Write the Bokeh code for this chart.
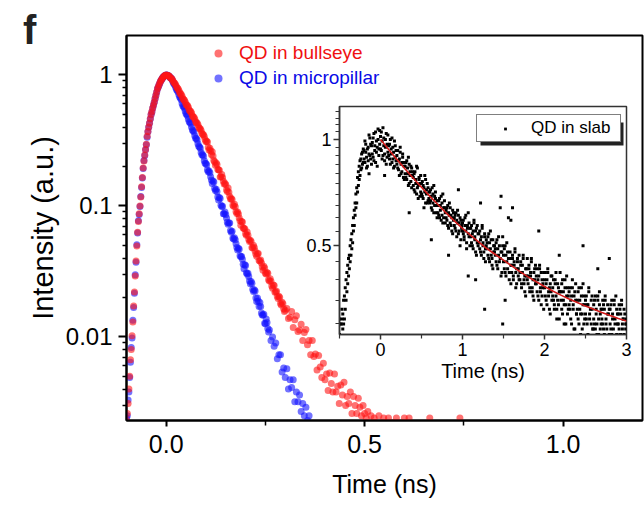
from bokeh.plotting import figure
from bokeh.models import (FixedTicker, CustomJSTickFormatter, Legend, LegendItem,
                          BoxAnnotation, GridBox, Div)
from bokeh.embed import file_html
from bokeh.resources import INLINE

FONT = "Liberation Sans"

# ---------------- main panel data (time in ns, normalised intensity) ----------------
T_RISE = [-0.100, -0.098, -0.096, -0.094, -0.092, -0.090, -0.088, -0.086, -0.084, -0.082,
          -0.080, -0.078, -0.076, -0.074, -0.072, -0.070, -0.068, -0.066, -0.064, -0.062,
          -0.060, -0.058, -0.056, -0.054, -0.052, -0.050, -0.048, -0.046, -0.044, -0.042,
          -0.040, -0.038, -0.036, -0.034, -0.032, -0.030, -0.028, -0.026, -0.024, -0.022,
          -0.020, -0.018, -0.016, -0.014, -0.012, -0.010, -0.008, -0.006, -0.004, -0.002,
          0.000]

I_RISE_BULLSEYE = [0.0023, 0.0026, 0.0031, 0.0040, 0.0050, 0.0067, 0.0080, 0.0102, 0.0130, 0.0172,
                   0.0220, 0.0292, 0.0380, 0.0495, 0.0630, 0.0760, 0.0870, 0.100, 0.117, 0.140,
                   0.165, 0.195, 0.220, 0.245, 0.270, 0.296, 0.340, 0.370, 0.400, 0.430,
                   0.465, 0.500, 0.525, 0.560, 0.590, 0.620, 0.660, 0.700, 0.740, 0.785,
                   0.810, 0.840, 0.870, 0.900, 0.920, 0.940, 0.960, 0.973, 0.985, 0.993,
                   1.000]

I_RISE_PILLAR = [0.0024, 0.0025, 0.0033, 0.0038, 0.0049, 0.0064, 0.0083, 0.0098, 0.0134, 0.0168,
                 0.0215, 0.0298, 0.0372, 0.0505, 0.0620, 0.0770, 0.0860, 0.099, 0.118, 0.138,
                 0.163, 0.193, 0.222, 0.243, 0.268, 0.293, 0.335, 0.368, 0.398, 0.428,
                 0.460, 0.497, 0.522, 0.556, 0.588, 0.618, 0.657, 0.697, 0.737, 0.780,
                 0.808, 0.838, 0.868, 0.897, 0.918, 0.938, 0.958, 0.972, 0.984, 0.992,
                 1.000]

T_FALL_PILLAR = [0.004, 0.008, 0.012, 0.016, 0.020, 0.024, 0.028, 0.032, 0.036, 0.040,
                 0.044, 0.048, 0.052, 0.056, 0.060, 0.064, 0.068, 0.072, 0.076, 0.080,
                 0.084, 0.088, 0.092, 0.096, 0.100, 0.104, 0.108, 0.112, 0.116, 0.120,
                 0.124, 0.128, 0.132, 0.136, 0.140, 0.144, 0.148, 0.152, 0.156, 0.160,
                 0.164, 0.168, 0.172, 0.176, 0.180, 0.184, 0.188, 0.192, 0.196, 0.200,
                 0.204, 0.208, 0.212, 0.216, 0.220, 0.224, 0.228, 0.232, 0.236, 0.240,
                 0.244, 0.248, 0.252, 0.256, 0.260, 0.264, 0.268, 0.272, 0.276, 0.280,
                 0.284, 0.288, 0.292, 0.296, 0.300, 0.304, 0.308, 0.312, 0.316, 0.320,
                 0.324, 0.328, 0.332, 0.336, 0.340, 0.344, 0.348, 0.352, 0.356, 0.360]

I_FALL_PILLAR = [0.991, 0.972, 0.946, 0.903, 0.853, 0.801, 0.762, 0.705, 0.664, 0.606,
                 0.572, 0.527, 0.498, 0.458, 0.434, 0.399, 0.375, 0.343, 0.327, 0.298,
                 0.282, 0.256, 0.246, 0.221, 0.211, 0.188, 0.185, 0.167, 0.148, 0.152,
                 0.131, 0.128, 0.111, 0.114, 0.099, 0.0873, 0.0898, 0.0810, 0.0723, 0.0740,
                 0.0630, 0.0567, 0.0572, 0.0515, 0.0460, 0.0467, 0.0409, 0.0392, 0.0331, 0.0351,
                 0.0302, 0.0289, 0.0254, 0.0257, 0.0222, 0.0224, 0.0186, 0.0188, 0.0183, 0.0152,
                 0.0147, 0.0127, 0.0137, 0.0116, 0.0113, 0.0094, 0.0100, 0.0085, 0.0090, 0.0068,
                 0.0073, 0.0073, 0.0054, 0.0058, 0.0049, 0.0057, 0.0040, 0.0047, 0.0041, 0.0047,
                 0.0032, 0.0038, 0.0032, 0.0036, 0.0027, 0.0031, 0.0025, 0.0029, 0.0023, 0.0025]

# intermediate time bins of the micropillar decay (dense part of the band)
T_MID_PILLAR = [0.002, 0.006, 0.010, 0.014, 0.018, 0.022, 0.026, 0.030, 0.034, 0.038,
                0.042, 0.046, 0.050, 0.054, 0.058, 0.062, 0.066, 0.070, 0.074, 0.078,
                0.082, 0.086, 0.090, 0.094, 0.098, 0.102, 0.106, 0.110, 0.114, 0.118,
                0.122, 0.126, 0.130, 0.134, 0.138, 0.142, 0.146, 0.150, 0.154, 0.158,
                0.162, 0.166, 0.170, 0.174, 0.178, 0.182, 0.186, 0.190, 0.194, 0.198,
                0.202, 0.206, 0.210, 0.214, 0.218, 0.222, 0.226, 0.230, 0.234, 0.238,
                0.242, 0.246, 0.250, 0.254, 0.258]
I_MID_PILLAR = [0.997, 0.985, 0.955, 0.930, 0.872, 0.835, 0.774, 0.741, 0.679, 0.646,
                0.581, 0.556, 0.506, 0.486, 0.440, 0.424, 0.380, 0.366, 0.329, 0.318,
                0.285, 0.275, 0.246, 0.239, 0.212, 0.206, 0.182, 0.179, 0.158, 0.155,
                0.136, 0.134, 0.117, 0.116, 0.101, 0.0995, 0.0870, 0.0858, 0.0752, 0.0741,
                0.0648, 0.0640, 0.0558, 0.0552, 0.0482, 0.0476, 0.0416, 0.0411, 0.0359, 0.0355,
                0.0309, 0.0306, 0.0267, 0.0265, 0.0230, 0.0229, 0.0198, 0.0198, 0.0171, 0.0171,
                0.0147, 0.0149, 0.0126, 0.0129, 0.0109]

T_FALL_BULLSEYE = [0.004, 0.008, 0.012, 0.016, 0.020, 0.024, 0.028, 0.032, 0.036, 0.040,
                   0.044, 0.048, 0.052, 0.056, 0.060, 0.064, 0.068, 0.072, 0.076, 0.080,
                   0.084, 0.088, 0.092, 0.096, 0.100, 0.104, 0.108, 0.112, 0.116, 0.120,
                   0.124, 0.128, 0.132, 0.136, 0.140, 0.144, 0.148, 0.152, 0.156, 0.160,
                   0.164, 0.168, 0.172, 0.176, 0.180, 0.184, 0.188, 0.192, 0.196, 0.200,
                   0.204, 0.208, 0.212, 0.216, 0.220, 0.224, 0.228, 0.232, 0.236, 0.240,
                   0.244, 0.248, 0.252, 0.256, 0.260, 0.264, 0.268, 0.272, 0.276, 0.280,
                   0.284, 0.288, 0.292, 0.296, 0.300, 0.304, 0.308, 0.312, 0.316, 0.320,
                   0.324, 0.328, 0.332, 0.336, 0.340, 0.344, 0.348, 0.352, 0.356, 0.360,
                   0.364, 0.368, 0.372, 0.376, 0.380, 0.384, 0.388, 0.392, 0.396, 0.400,
                   0.404, 0.408, 0.412, 0.416, 0.420, 0.424, 0.428, 0.432, 0.436, 0.440,
                   0.444, 0.448, 0.452, 0.456, 0.460, 0.464, 0.468, 0.472, 0.476, 0.480,
                   0.484, 0.488, 0.492, 0.496, 0.500, 0.504, 0.508, 0.512, 0.516, 0.520,
                   0.524, 0.528, 0.532, 0.536, 0.540, 0.544, 0.548, 0.552, 0.556, 0.560,
                   0.564, 0.568, 0.572, 0.576, 0.580, 0.584, 0.588, 0.592, 0.596, 0.600,
                   0.604, 0.608, 0.612, 0.616, 0.620, 0.624, 0.628, 0.632, 0.636, 0.640,
                   0.664, 0.740]

I_FALL_BULLSEYE = [0.990, 0.975, 0.944, 0.915, 0.872, 0.839, 0.795, 0.762, 0.718, 0.688,
                   0.648, 0.622, 0.586, 0.563, 0.529, 0.509, 0.478, 0.460, 0.431, 0.416,
                   0.390, 0.376, 0.351, 0.339, 0.310, 0.308, 0.267, 0.264, 0.259, 0.222,
                   0.204, 0.207, 0.189, 0.166, 0.174, 0.154, 0.149, 0.132, 0.137, 0.118,
                   0.114, 0.101, 0.103, 0.0901, 0.0897, 0.0809, 0.0712, 0.0754, 0.0673, 0.0612,
                   0.0633, 0.0554, 0.0546, 0.0481, 0.0498, 0.0453, 0.0412, 0.0434, 0.0380, 0.0367,
                   0.0323, 0.0335, 0.0302, 0.0306, 0.0267, 0.0266, 0.0235, 0.0247, 0.0221, 0.0203,
                   0.0204, 0.0180, 0.0184, 0.0164, 0.0160, 0.0165, 0.0138, 0.0141, 0.0156, 0.0118,
                   0.0135, 0.0145, 0.0110, 0.0113, 0.0125, 0.0094, 0.0108, 0.0114, 0.0087, 0.0094,
                   0.0073, 0.0094, 0.0071, 0.0074, 0.0056, 0.0072, 0.0059, 0.0049, 0.0063, 0.0047,
                   0.0052, 0.0039, 0.0053, 0.0044, 0.0038, 0.0052, 0.0038, 0.0042, 0.0031, 0.0043,
                   0.0036, 0.0045, 0.0030, 0.0035, 0.0031, 0.0038, 0.0026, 0.0035, 0.0030, 0.0026,
                   0.0034, 0.0029, 0.0025, 0.0030, 0.0026, 0.0024, 0.0027, 0.0021, 0.0025, 0.0019,
                   0.0024, 0.0022, 0.0018, 0.0025, 0.0020, 0.0017, 0.0024, 0.0021, 0.0019, 0.0024,
                   0.0016, 0.0020, 0.0022, 0.0017, 0.0024, 0.0019, 0.0015, 0.0021, 0.0018, 0.0024,
                   0.0016, 0.0020, 0.0024, 0.0017, 0.0015, 0.0019, 0.0021, 0.0016, 0.0018, 0.0014,
                   0.0024, 0.0024]

# intermediate time bins of the bullseye decay (dense part of the band)
T_MID_BULLSEYE = [0.002, 0.006, 0.010, 0.014, 0.018, 0.022, 0.026, 0.030, 0.034, 0.038,
                  0.042, 0.046, 0.050, 0.054, 0.058, 0.062, 0.066, 0.070, 0.074, 0.078,
                  0.082, 0.086, 0.090, 0.094, 0.098, 0.102, 0.106, 0.110, 0.114, 0.118,
                  0.122, 0.126, 0.130, 0.134, 0.138, 0.142, 0.146, 0.150, 0.154, 0.158,
                  0.162, 0.166, 0.170, 0.174, 0.178, 0.182, 0.186, 0.190, 0.194, 0.198,
                  0.202, 0.206, 0.210, 0.214, 0.218, 0.222, 0.226, 0.230, 0.234, 0.238,
                  0.242, 0.246, 0.250, 0.254, 0.258, 0.262, 0.266, 0.270, 0.274, 0.278,
                  0.282, 0.286, 0.290, 0.294, 0.298]
I_MID_BULLSEYE = [0.996, 0.986, 0.955, 0.934, 0.887, 0.861, 0.811, 0.785, 0.734, 0.709,
                  0.661, 0.642, 0.598, 0.581, 0.540, 0.525, 0.488, 0.475, 0.441, 0.429,
                  0.398, 0.388, 0.359, 0.350, 0.321, 0.312, 0.281, 0.275, 0.247, 0.241,
                  0.217, 0.213, 0.190, 0.187, 0.167, 0.165, 0.147, 0.145, 0.129, 0.127,
                  0.113, 0.112, 0.0995, 0.0985, 0.0875, 0.0868, 0.0770, 0.0762, 0.0677, 0.0670,
                  0.0597, 0.0598, 0.0534, 0.0536, 0.0478, 0.0481, 0.0428, 0.0431, 0.0383, 0.0386,
                  0.0342, 0.0346, 0.0306, 0.0310, 0.0273, 0.0278, 0.0245, 0.0249, 0.0219, 0.0223,
                  0.0196, 0.0200, 0.0175, 0.0179, 0.0156]

# ---------------- inset data: QD in slab ----------------
T_SLAB = [-0.50, -0.49, -0.48, -0.47, -0.46, -0.45, -0.44, -0.43, -0.42, -0.41,
          -0.40, -0.39, -0.38, -0.37, -0.36, -0.35, -0.34, -0.33, -0.32, -0.31,
          -0.30, -0.29, -0.28, -0.27, -0.26, -0.25, -0.24, -0.23, -0.22, -0.21,
          -0.20, -0.19, -0.18, -0.17, -0.16, -0.15, -0.14, -0.13, -0.12, -0.11,
          -0.10, -0.09, -0.08, -0.07, -0.06, -0.05, -0.04, -0.03, -0.02, -0.01,
          0.00, 0.01, 0.02, 0.03, 0.04, 0.05, 0.06, 0.07, 0.08, 0.09,
          0.10, 0.11, 0.12, 0.13, 0.14, 0.15, 0.16, 0.17, 0.18, 0.19,
          0.20, 0.21, 0.22, 0.23, 0.24, 0.25, 0.26, 0.27, 0.28, 0.29,
          0.30, 0.31, 0.32, 0.33, 0.34, 0.35, 0.36, 0.37, 0.38, 0.39,
          0.40, 0.41, 0.42, 0.43, 0.44, 0.45, 0.46, 0.47, 0.48, 0.49,
          0.50, 0.51, 0.52, 0.53, 0.54, 0.55, 0.56, 0.57, 0.58, 0.59,
          0.60, 0.61, 0.62, 0.63, 0.64, 0.65, 0.66, 0.67, 0.68, 0.69,
          0.70, 0.71, 0.72, 0.73, 0.74, 0.75, 0.76, 0.77, 0.78, 0.79,
          0.80, 0.81, 0.82, 0.83, 0.84, 0.85, 0.86, 0.87, 0.88, 0.89,
          0.90, 0.91, 0.92, 0.93, 0.94, 0.95, 0.96, 0.97, 0.98, 0.99,
          1.00, 1.01, 1.02, 1.03, 1.04, 1.05, 1.06, 1.07, 1.08, 1.09,
          1.10, 1.11, 1.12, 1.13, 1.14, 1.15, 1.16, 1.17, 1.18, 1.19,
          1.20, 1.21, 1.22, 1.23, 1.24, 1.25, 1.26, 1.27, 1.28, 1.29,
          1.30, 1.31, 1.32, 1.33, 1.34, 1.35, 1.36, 1.37, 1.38, 1.39,
          1.40, 1.41, 1.42, 1.43, 1.44, 1.45, 1.46, 1.47, 1.48, 1.49,
          1.50, 1.51, 1.52, 1.53, 1.54, 1.55, 1.56, 1.57, 1.58, 1.59,
          1.60, 1.61, 1.62, 1.63, 1.64, 1.65, 1.66, 1.67, 1.68, 1.69,
          1.70, 1.71, 1.72, 1.73, 1.74, 1.75, 1.76, 1.77, 1.78, 1.79,
          1.80, 1.81, 1.82, 1.83, 1.84, 1.85, 1.86, 1.87, 1.88, 1.89,
          1.90, 1.91, 1.92, 1.93, 1.94, 1.95, 1.96, 1.97, 1.98, 1.99,
          2.00, 2.01, 2.02, 2.03, 2.04, 2.05, 2.06, 2.07, 2.08, 2.09,
          2.10, 2.11, 2.12, 2.13, 2.14, 2.15, 2.16, 2.17, 2.18, 2.19,
          2.20, 2.21, 2.22, 2.23, 2.24, 2.25, 2.26, 2.27, 2.28, 2.29,
          2.30, 2.31, 2.32, 2.33, 2.34, 2.35, 2.36, 2.37, 2.38, 2.39,
          2.40, 2.41, 2.42, 2.43, 2.44, 2.45, 2.46, 2.47, 2.48, 2.49,
          2.50, 2.51, 2.52, 2.53, 2.54, 2.55, 2.56, 2.57, 2.58, 2.59,
          2.60, 2.61, 2.62, 2.63, 2.64, 2.65, 2.66, 2.67, 2.68, 2.69,
          2.70, 2.71, 2.72, 2.73, 2.74, 2.75, 2.76, 2.77, 2.78, 2.79,
          2.80, 2.81, 2.82, 2.83, 2.84, 2.85, 2.86, 2.87, 2.88, 2.89,
          2.90, 2.91, 2.92, 2.93, 2.94, 2.95, 2.96, 2.97, 2.98, 2.99,
          3.00]

I_SLAB_A = [0.31, 0.27, 0.30, 0.33, 0.29, 0.30, 0.36, 0.33, 0.40, 0.37,
            0.44, 0.41, 0.47, 0.45, 0.52, 0.49, 0.51, 0.60, 0.57, 0.66,
            0.70, 0.66, 0.78, 0.74, 0.84, 0.79, 0.88, 0.83, 0.92, 0.86,
            0.93, 0.86, 0.97, 0.89, 0.84, 0.95, 0.91, 1.01, 0.88, 0.96,
            0.98, 0.89, 1.04, 0.93, 0.86, 0.99, 0.95, 1.07, 0.90, 0.97,
            1.02, 0.93, 0.88, 1.08, 0.96, 0.91, 1.00, 0.85, 0.97, 1.03,
            0.96, 0.88, 1.00, 0.91, 0.86, 0.95, 0.83, 0.99, 0.89, 0.93,
            0.85, 0.93, 0.82, 0.88, 0.95, 0.80, 0.86, 0.91, 0.78, 0.84,
            0.80, 0.86, 0.77, 0.83, 0.89, 0.75, 0.81, 0.84, 0.73, 0.79,
            0.78, 0.72, 0.81, 0.75, 0.70, 0.83, 0.74, 0.77, 0.69, 0.79,
            0.70, 0.76, 0.68, 0.73, 0.79, 0.66, 0.72, 0.75, 0.67, 0.71,
            0.66, 0.72, 0.69, 0.63, 0.70, 0.74, 0.65, 0.68, 0.62, 0.67,
            0.65, 0.61, 0.68, 0.63, 0.59, 0.66, 0.70, 0.60, 0.64, 0.58,
            0.60, 0.64, 0.57, 0.62, 0.66, 0.58, 0.61, 0.55, 0.63, 0.59,
            0.57, 0.61, 0.55, 0.59, 0.63, 0.54, 0.58, 0.60, 0.52, 0.57,
            0.55, 0.59, 0.53, 0.57, 0.61, 0.51, 0.56, 0.54, 0.58, 0.50,
            0.53, 0.57, 0.50, 0.55, 0.59, 0.52, 0.48, 0.56, 0.51, 0.54,
            0.51, 0.55, 0.48, 0.53, 0.57, 0.50, 0.46, 0.54, 0.49, 0.52,
            0.49, 0.53, 0.46, 0.51, 0.55, 0.47, 0.44, 0.52, 0.48, 0.50,
            0.47, 0.51, 0.44, 0.49, 0.53, 0.45, 0.64, 0.48, 0.42, 0.50,
            0.45, 0.49, 0.42, 0.47, 0.51, 0.43, 0.46, 0.40, 0.48, 0.44,
            0.44, 0.47, 0.41, 0.45, 0.49, 0.42, 0.39, 0.46, 0.43, 0.40,
            0.42, 0.45, 0.39, 0.44, 0.47, 0.40, 0.37, 0.43, 0.41, 0.46,
            0.41, 0.44, 0.38, 0.42, 0.46, 0.37, 0.40, 0.35, 0.43, 0.39,
            0.39, 0.43, 0.36, 0.41, 0.44, 0.37, 0.34, 0.40, 0.38, 0.42,
            0.38, 0.42, 0.35, 0.40, 0.43, 0.36, 0.33, 0.39, 0.37, 0.41,
            0.36, 0.40, 0.34, 0.39, 0.42, 0.33, 0.35, 0.38, 0.31, 0.37,
            0.37, 0.33, 0.40, 0.35, 0.30, 0.38, 0.34, 0.41, 0.32, 0.36,
            0.34, 0.38, 0.31, 0.36, 0.40, 0.33, 0.29, 0.37, 0.35, 0.32,
            0.35, 0.31, 0.38, 0.33, 0.28, 0.36, 0.32, 0.39, 0.30, 0.34,
            0.32, 0.36, 0.30, 0.34, 0.38, 0.31, 0.27, 0.35, 0.33, 0.29,
            0.34, 0.30, 0.36, 0.32, 0.28, 0.35, 0.31, 0.37, 0.29, 0.33,
            0.31, 0.35, 0.29, 0.33, 0.36, 0.30, 0.27, 0.34, 0.32, 0.28,
            0.33, 0.29, 0.35, 0.31, 0.27, 0.34, 0.30, 0.36, 0.28, 0.32,
            0.30, 0.34, 0.28, 0.32, 0.35, 0.29, 0.31, 0.33, 0.27, 0.30,
            0.31]

I_SLAB_B = [0.28, 0.30, 0.26, 0.31, 0.32, 0.35, 0.31, 0.38, 0.35, 0.42,
            0.39, 0.46, 0.43, 0.50, 0.47, 0.54, 0.57, 0.55, 0.63, 0.61,
            0.64, 0.73, 0.71, 0.81, 0.77, 0.87, 0.82, 0.91, 0.85, 0.94,
            0.88, 0.99, 0.92, 0.83, 0.94, 0.87, 1.03, 0.90, 0.97, 0.85,
            0.91, 1.01, 0.87, 0.96, 1.05, 0.92, 0.84, 1.00, 0.94, 1.06,
            0.94, 1.05, 0.99, 0.90, 1.01, 0.87, 0.95, 1.04, 0.89, 0.92,
            0.90, 0.97, 0.85, 0.94, 1.01, 0.88, 0.92, 0.84, 0.96, 0.87,
            0.90, 0.83, 0.87, 0.79, 0.92, 0.85, 0.81, 0.89, 0.86, 0.77,
            0.84, 0.78, 0.87, 0.80, 0.74, 0.85, 0.79, 0.76, 0.83, 0.81,
            0.74, 0.80, 0.71, 0.77, 0.84, 0.73, 0.68, 0.78, 0.75, 0.71,
            0.75, 0.69, 0.74, 0.64, 0.71, 0.77, 0.70, 0.66, 0.73, 0.68,
            0.71, 0.67, 0.64, 0.73, 0.66, 0.62, 0.69, 0.71, 0.65, 0.60,
            0.62, 0.67, 0.60, 0.65, 0.69, 0.61, 0.58, 0.64, 0.67, 0.62,
            0.63, 0.59, 0.65, 0.56, 0.61, 0.64, 0.57, 0.60, 0.54, 0.62,
            0.60, 0.56, 0.62, 0.53, 0.58, 0.61, 0.55, 0.50, 0.59, 0.56,
            0.58, 0.54, 0.52, 0.60, 0.55, 0.49, 0.57, 0.62, 0.53, 0.56,
            0.56, 0.51, 0.54, 0.49, 0.58, 0.53, 0.55, 0.47, 0.57, 0.50,
            0.54, 0.49, 0.52, 0.47, 0.56, 0.51, 0.48, 0.53, 0.45, 0.50,
            0.51, 0.47, 0.54, 0.45, 0.49, 0.52, 0.46, 0.43, 0.50, 0.48,
            0.49, 0.45, 0.52, 0.43, 0.47, 0.50, 0.46, 0.41, 0.48, 0.53,
            0.47, 0.43, 0.50, 0.41, 0.45, 0.48, 0.60, 0.42, 0.46, 0.39,
            0.42, 0.46, 0.40, 0.44, 0.48, 0.38, 0.43, 0.45, 0.41, 0.47,
            0.40, 0.44, 0.38, 0.42, 0.46, 0.39, 0.41, 0.36, 0.43, 0.40,
            0.39, 0.43, 0.37, 0.41, 0.45, 0.38, 0.36, 0.42, 0.40, 0.44,
            0.41, 0.37, 0.40, 0.35, 0.43, 0.38, 0.42, 0.36, 0.39, 0.33,
            0.40, 0.36, 0.39, 0.34, 0.42, 0.37, 0.38, 0.32, 0.41, 0.35,
            0.38, 0.35, 0.33, 0.40, 0.36, 0.31, 0.39, 0.34, 0.37, 0.42,
            0.35, 0.39, 0.32, 0.37, 0.34, 0.40, 0.30, 0.36, 0.38, 0.33,
            0.37, 0.33, 0.35, 0.30, 0.38, 0.34, 0.36, 0.29, 0.39, 0.32,
            0.33, 0.37, 0.30, 0.35, 0.32, 0.38, 0.29, 0.34, 0.36, 0.31,
            0.35, 0.31, 0.34, 0.28, 0.37, 0.32, 0.33, 0.30, 0.36, 0.29,
            0.31, 0.35, 0.29, 0.33, 0.30, 0.36, 0.28, 0.34, 0.32, 0.30,
            0.33, 0.30, 0.34, 0.28, 0.35, 0.31, 0.29, 0.32, 0.27, 0.33,
            0.30, 0.34, 0.28, 0.32, 0.29, 0.35, 0.31, 0.27, 0.33, 0.30,
            0.32, 0.29, 0.33, 0.28, 0.34, 0.30, 0.31, 0.28, 0.32, 0.29,
            0.30]

T_SLAB_OUT = [1.47, 1.61, 1.59, 1.93, 2.47, 2.79, 1.27, 1.49, 1.07, 1.52,
              0.35, 0.62, 0.83, 1.16, 2.18, 2.65, 0.05, -0.14, 0.95, 1.22]
I_SLAB_OUT = [0.69, 0.64, 0.59, 0.55, 0.50, 0.46, 0.33, 0.30, 0.41, 0.35,
              0.62, 0.52, 0.47, 0.40, 0.47, 0.43, 0.79, 0.80, 0.72, 0.66]

FIT_T = [0.0, 0.1, 0.2, 0.3, 0.4, 0.5, 0.6, 0.7, 0.8, 0.9, 1.0,
         1.1, 1.2, 1.3, 1.4, 1.5, 1.6, 1.7, 1.8, 1.9, 2.0,
         2.1, 2.2, 2.3, 2.4, 2.5, 2.6, 2.7, 2.8, 2.9, 3.0]
FIT_I = [1.000, 0.936, 0.878, 0.825, 0.776, 0.732, 0.691, 0.654, 0.619, 0.588, 0.560,
         0.535, 0.512, 0.490, 0.472, 0.455, 0.438, 0.422, 0.408, 0.395, 0.383,
         0.372, 0.362, 0.353, 0.345, 0.337, 0.330, 0.323, 0.317, 0.311, 0.306]

MAIN_X_TICKS = [0.0, 0.5, 1.0]
MAIN_Y_TICKS = [0.01, 0.1, 1.0]
INSET_X_TICKS = [0, 1, 2, 3]
INSET_Y_TICKS = [0.5, 1.0]

LABEL_BULLSEYE = "QD in bullseye"
LABEL_PILLAR = "QD in micropillar"
LABEL_SLAB = "QD in slab"
PANEL_LETTER = "f"

# ---------------- main figure ----------------
p = figure(frame_width=516, frame_height=385, x_range=(-0.1, 1.2), y_range=(0.0023, 2.0),
           y_axis_type="log", output_backend="svg", toolbar_location=None,
           title_location=None,
           min_border_left=126, min_border_right=2, min_border_top=35, min_border_bottom=85)
p.grid.visible = False
p.outline_line_color = "black"
p.outline_line_width = 2
p.outline_line_alpha = 1
p.background_fill_color = "white"
p.border_fill_color = "white"

t_pil = T_RISE + T_FALL_PILLAR + T_MID_PILLAR
i_pil = I_RISE_PILLAR + I_FALL_PILLAR + I_MID_PILLAR
t_bul = T_RISE + T_FALL_BULLSEYE + T_MID_BULLSEYE
i_bul = I_RISE_BULLSEYE + I_FALL_BULLSEYE + I_MID_BULLSEYE

r_pil = p.scatter(t_pil, i_pil, marker="circle", size=7, fill_color="#1414ff",
                  fill_alpha=0.6, line_color=None)
r_bul = p.scatter(t_bul, i_bul, marker="circle", size=7, fill_color="#ff1414",
                  fill_alpha=0.6, line_color=None)

xa = p.xaxis[0]
xa.ticker = FixedTicker(ticks=MAIN_X_TICKS, minor_ticks=[0.25, 0.75])
xa.formatter = CustomJSTickFormatter(code="return tick.toFixed(1);")
ya = p.yaxis[0]
ya.ticker = FixedTicker(ticks=MAIN_Y_TICKS,
                        minor_ticks=[0.003, 0.004, 0.005, 0.006, 0.007, 0.008, 0.009,
                                     0.02, 0.03, 0.04, 0.05, 0.06, 0.07, 0.08, 0.09,
                                     0.2, 0.3, 0.4, 0.5, 0.6, 0.7, 0.8, 0.9])
ya.formatter = CustomJSTickFormatter(code="return String(tick);")

for ax in (xa, ya):
    ax.axis_line_color = "black"
    ax.axis_line_width = 2
    ax.major_tick_line_color = "black"
    ax.major_tick_line_width = 2
    ax.minor_tick_line_color = "black"
    ax.minor_tick_line_width = 1.5
    ax.major_tick_in = 0
    ax.minor_tick_in = 0
    ax.major_label_text_font = FONT
    ax.major_label_text_color = "black"
    ax.axis_label_text_font = FONT
    ax.axis_label_text_font_style = "normal"
    ax.axis_label_text_color = "black"

xa.major_tick_out = 6
xa.minor_tick_out = 5
xa.major_label_text_font_size = "25px"
xa.major_label_standoff = 8
xa.axis_label = "Time (ns)"
xa.axis_label_text_font_size = "25px"
xa.axis_label_standoff = 14

ya.major_tick_out = 8
ya.minor_tick_out = 4
ya.major_label_text_font_size = "24px"
ya.major_label_standoff = 6
ya.axis_label = "Intensity (a.u.)"
ya.axis_label_text_font_size = "29px"
ya.axis_label_standoff = 4

leg_b = Legend(items=[LegendItem(label=LABEL_BULLSEYE, renderers=[r_bul])],
               location=(82, 355), padding=0, margin=0, spacing=0,
               glyph_width=20, glyph_height=24, label_height=24, label_standoff=11,
               border_line_alpha=0, background_fill_alpha=0,
               label_text_font=FONT, label_text_font_size="19px",
               label_text_color="#f01010")
leg_p = Legend(items=[LegendItem(label=LABEL_PILLAR, renderers=[r_pil])],
               location=(82, 330), padding=0, margin=0, spacing=0,
               glyph_width=20, glyph_height=24, label_height=24, label_standoff=11,
               border_line_alpha=0, background_fill_alpha=0,
               label_text_font=FONT, label_text_font_size="19px",
               label_text_color="#0a0ae6")
p.add_layout(leg_b)
p.add_layout(leg_p)

# ---------------- inset figure ----------------
ins = figure(frame_width=287, frame_height=228, x_range=(-0.5, 3.0), y_range=(0.28, 1.24),
             y_axis_type="log", output_backend="svg", toolbar_location=None,
             title_location=None,
             min_border_left=40, min_border_right=10, min_border_top=5, min_border_bottom=55)
ins.grid.visible = False
ins.border_fill_alpha = 0
ins.background_fill_color = "white"
ins.outline_line_color = "#333333"
ins.outline_line_width = 1.5
ins.outline_line_alpha = 1

r_slab = ins.scatter(T_SLAB + T_SLAB + T_SLAB_OUT, I_SLAB_A + I_SLAB_B + I_SLAB_OUT,
                     marker="square", size=3, fill_color="black", line_color=None)
ins.line(FIT_T, FIT_I, line_color="#d21a1a", line_width=1.6)

ixa = ins.xaxis[0]
ixa.ticker = FixedTicker(ticks=INSET_X_TICKS, minor_ticks=[-0.5, 0.5, 1.5, 2.5])
iya = ins.yaxis[0]
iya.ticker = FixedTicker(ticks=INSET_Y_TICKS,
                         minor_ticks=[0.3, 0.35, 0.4, 0.45, 0.55, 0.6, 0.65, 0.7, 0.75,
                                      0.8, 0.85, 0.9, 0.95, 1.05, 1.1, 1.15, 1.2])
iya.formatter = CustomJSTickFormatter(code="return String(tick);")
for ax in (ixa, iya):
    ax.axis_line_color = "#333333"
    ax.axis_line_width = 1.5
    ax.major_tick_line_color = "#333333"
    ax.major_tick_line_width = 1.5
    ax.minor_tick_line_color = "#333333"
    ax.minor_tick_line_width = 1.2
    ax.major_tick_in = 0
    ax.minor_tick_in = 0
    ax.major_label_text_font = FONT
    ax.major_label_text_font_size = "18px"
    ax.major_label_text_color = "black"
    ax.axis_label_text_font = FONT
    ax.axis_label_text_font_style = "normal"
    ax.axis_label_text_color = "black"
ixa.major_tick_out = 5
ixa.minor_tick_out = 4
ixa.major_label_standoff = 3
ixa.axis_label = "Time (ns)"
ixa.axis_label_text_font_size = "20px"
ixa.axis_label_standoff = 1
iya.major_tick_out = 6
iya.minor_tick_out = 4
iya.major_label_standoff = 2

ins.add_layout(BoxAnnotation(left=141, right=284, bottom=189, top=212,
                             left_units="screen", right_units="screen",
                             bottom_units="screen", top_units="screen",
                             fill_color="#222222", fill_alpha=1, line_alpha=0))
leg_s = Legend(items=[LegendItem(label=LABEL_SLAB, renderers=[r_slab])],
               location=(137, 192), padding=3, margin=0, spacing=0,
               glyph_width=50, glyph_height=7, label_height=18, label_width=86,
               label_standoff=1, border_line_color="black", border_line_width=1,
               background_fill_color="white", background_fill_alpha=1,
               label_text_font=FONT, label_text_font_size="17px", label_text_color="black")
ins.add_layout(leg_s)

letter = Div(text=PANEL_LETTER,
             styles={"font-family": FONT, "font-size": "40px", "font-weight": "bold",
                     "color": "#222222", "line-height": "40px",
                     "padding-left": "18px", "padding-top": "5px"})

layout = GridBox(children=[(p, 0, 0, 2, 2), (ins, 1, 1), (letter, 0, 0)],
                 rows=["101px", "404px"], cols=["299px", "345px"])

open("out.html", "w").write(file_html(layout, INLINE))
